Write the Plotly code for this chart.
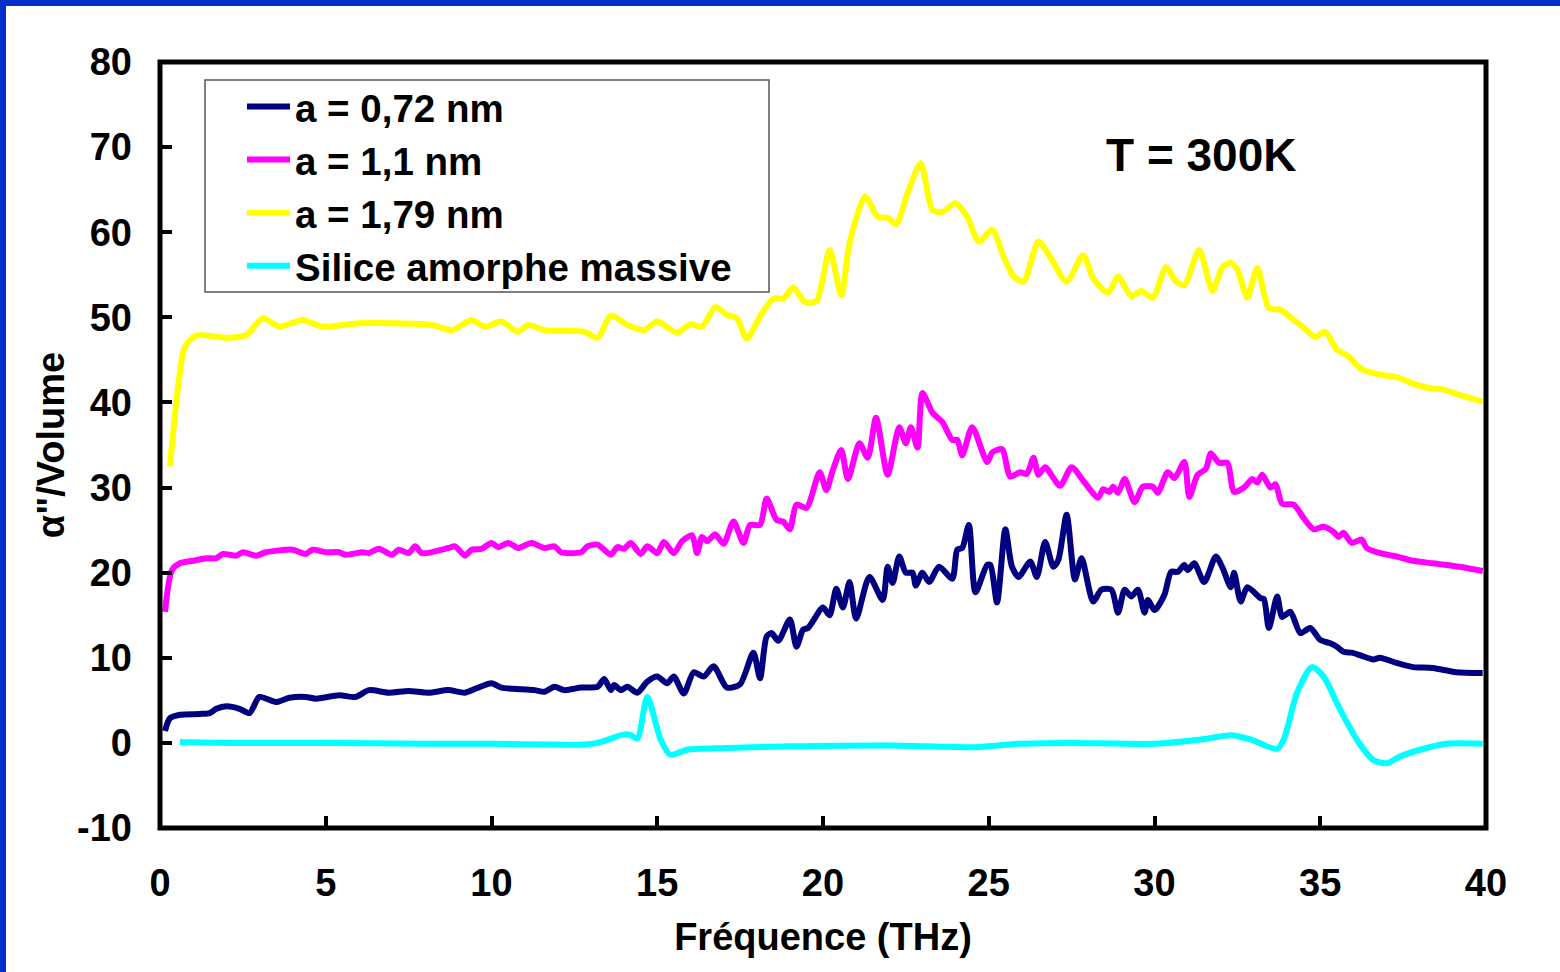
import plotly.graph_objects as go

# ---------------- data ----------------
f_072 = [0.15, 0.3, 0.6, 1.2, 1.5, 1.7, 2.0, 2.4, 2.7, 3.0, 3.5, 3.9, 4.4, 4.7, 5.4, 5.9, 6.3, 6.9, 7.5, 8.1,
         8.7, 9.2, 9.6, 10.0, 10.3, 10.9, 11.3, 11.6, 11.9, 12.2, 12.7, 13.2, 13.4, 13.6, 13.7, 13.9, 14.1, 14.4,
         14.7, 15.0, 15.3, 15.5, 15.8, 16.1, 16.4, 16.7, 17.1, 17.5, 17.9, 18.1, 18.3, 18.45, 18.65, 19.0, 19.2,
         19.4, 19.55, 20.0, 20.2, 20.4, 20.6, 20.8, 21.0, 21.4, 21.8, 21.95, 22.1, 22.3, 22.5, 22.7, 22.8, 23.0,
         23.2, 23.5, 23.9, 24.05, 24.2, 24.4, 24.6, 24.95, 25.05, 25.25, 25.5, 25.7, 25.9, 26.25, 26.45, 26.7,
         26.95, 27.1, 27.35, 27.6, 27.8, 28.15, 28.4, 28.7, 28.9, 29.1, 29.3, 29.5, 29.7, 29.8, 30.0, 30.3, 30.5,
         30.7, 30.9, 31.0, 31.2, 31.5, 31.85, 32.05, 32.3, 32.4, 32.6, 32.8, 33.2, 33.3, 33.45, 33.7, 33.85, 34.1,
         34.4, 34.7, 35.0, 35.3, 35.5, 35.7, 35.95, 36.2, 36.6, 36.8, 37.3, 37.8, 38.4, 39.1, 39.9]
v_072 = [1.4, 2.9, 3.3, 3.4, 3.5, 4.0, 4.3, 4.0, 3.5, 5.4, 4.8, 5.3, 5.4, 5.2, 5.6, 5.4, 6.2, 5.9, 6.1, 5.9,
         6.2, 5.9, 6.5, 7.0, 6.5, 6.3, 6.2, 6.0, 6.6, 6.2, 6.5, 6.6, 7.5, 6.2, 6.8, 6.2, 6.6, 5.9,
         7.2, 7.8, 7.0, 7.8, 5.8, 8.3, 7.8, 9.0, 6.5, 6.9, 10.6, 7.6, 12.5, 12.9, 12.0, 14.5, 11.3,
         13.3, 13.5, 15.9, 15.0, 18.1, 15.9, 18.9, 14.6, 19.5, 16.8, 20.7, 18.8, 21.9, 20.0, 20.0, 18.5, 20.0,
         18.9, 20.7, 19.3, 22.7, 22.9, 25.6, 17.7, 20.9, 20.9, 16.5, 25.1, 20.7, 19.5, 21.3, 19.5, 23.6,
         20.7, 21.5, 26.8, 19.2, 21.7, 16.6, 18.0, 18.0, 15.3, 18.0, 17.2, 18.0, 15.3, 16.8, 15.6, 17.4, 20.1,
         20.1, 20.9, 20.3, 21.1, 18.9, 21.9, 20.6, 18.3, 20.0, 16.6, 18.3, 17.0, 16.9, 13.5, 17.2, 14.8, 15.4,
         12.9, 13.5, 12.1, 11.7, 11.3, 10.7, 10.6, 10.3, 9.8, 10.0, 9.4, 8.9, 8.8, 8.3, 8.2]

f_11 = [0.15, 0.36, 0.6, 1.0, 1.4, 1.7, 1.9, 2.3, 2.5, 2.9, 3.2, 4.0, 4.4, 4.6, 5.0, 5.4, 5.6, 6.1, 6.3, 6.6,
        7.0, 7.2, 7.5, 7.7, 7.9, 8.7, 8.9, 9.2, 9.4, 9.7, 10.0, 10.2, 10.5, 10.8, 11.2, 11.6, 11.9, 12.1, 12.7,
        12.9, 13.2, 13.6, 13.8, 14.0, 14.2, 14.5, 14.7, 15.0, 15.2, 15.5, 15.75, 16.05, 16.2, 16.35, 16.5,
        16.75, 17.0, 17.3, 17.6, 17.8, 18.1, 18.3, 18.6, 18.8, 19.0, 19.2, 19.5, 19.9, 20.1, 20.3, 20.55, 20.75,
        21.1, 21.35, 21.6, 21.95, 22.3, 22.5, 22.65, 22.85, 23.0, 23.3, 23.6, 23.9, 24.05, 24.2, 24.5, 24.95,
        25.1, 25.4, 25.65, 25.95, 26.15, 26.35, 26.5, 26.7, 27.15, 27.5, 27.85, 28.3, 28.45, 28.65, 28.75,
        28.9, 29.1, 29.4, 29.65, 29.95, 30.1, 30.4, 30.6, 30.9, 31.05, 31.3, 31.55, 31.7, 31.95, 32.2, 32.4,
        32.7, 32.95, 33.1, 33.25, 33.5, 33.65, 33.85, 34.2, 34.5, 34.8, 35.1, 35.4, 35.55, 35.7, 35.95, 36.25,
        36.4, 36.9, 37.3, 37.8, 38.4, 39.2, 39.9]
v_11 = [15.4, 20.3, 21.1, 21.4, 21.7, 21.7, 22.2, 22.0, 22.4, 22.0, 22.4, 22.7, 22.2, 22.7, 22.4, 22.4, 22.1, 22.4, 22.3, 22.8,
        22.1, 22.7, 22.3, 23.1, 22.3, 22.9, 23.1, 22.0, 22.7, 22.8, 23.5, 23.0, 23.5, 22.9, 23.5, 22.9, 23.1, 22.4, 22.4,
        23.1, 23.3, 22.1, 23.0, 22.8, 23.5, 22.2, 23.1, 22.3, 23.6, 22.3, 23.7, 24.4, 22.3, 24.2, 23.7,
        24.5, 23.4, 26.0, 23.5, 25.6, 25.6, 28.7, 26.2, 26.0, 25.1, 28.0, 27.6, 31.8, 29.7, 32.1, 34.4, 31.0,
        35.2, 33.5, 38.2, 31.5, 37.1, 35.2, 37.1, 34.7, 41.1, 38.8, 37.7, 35.6, 35.6, 33.8, 37.1, 33.0,
        34.1, 34.5, 31.3, 31.8, 31.6, 33.5, 31.5, 32.4, 30.2, 32.4, 30.8, 28.8, 29.8, 29.5, 30.1,
        29.4, 31.0, 28.3, 30.1, 30.1, 29.4, 31.8, 31.1, 33.0, 28.9, 31.5, 32.2, 34.0, 32.9, 32.9, 29.5,
        30.0, 31.0, 30.6, 31.5, 30.0, 30.4, 28.1, 28.0, 26.4, 25.1, 25.4, 24.8, 24.2, 24.7, 23.5, 23.9,
        22.9, 22.2, 21.9, 21.4, 21.1, 20.7, 20.2]

f_179 = [0.3, 0.55, 0.75, 1.1, 2.0, 2.6, 3.1, 3.6, 4.3, 4.9, 6.0, 7.0, 8.2, 8.8, 9.4, 9.8, 10.3, 10.8, 11.1, 11.6,
         12.8, 13.2, 13.6, 14.1, 14.6, 15.0, 15.6, 16.0, 16.35, 16.75, 17.1, 17.4, 17.7, 18.1, 18.5, 18.8, 19.1,
         19.45, 19.8, 20.2, 20.55, 20.8, 21.27, 21.65, 21.95, 22.2, 22.55, 22.95, 23.3, 23.6, 24.0, 24.35, 24.7,
         25.1, 25.45, 25.75, 26.05, 26.5, 26.85, 27.35, 27.85, 28.15, 28.6, 28.9, 29.3, 29.6, 29.95, 30.35,
         30.65, 30.9, 31.35, 31.75, 32.05, 32.3, 32.5, 32.8, 33.1, 33.45, 33.8, 34.2, 34.5, 34.85, 35.15, 35.5,
         35.85, 36.25, 36.9, 37.3, 37.8, 38.4, 38.6, 39.2, 39.9]
v_179 = [32.5, 42.0, 46.5, 47.9, 47.6, 47.9, 49.9, 48.9, 49.7, 48.9, 49.3, 49.3, 49.1, 48.5, 49.7, 48.9, 49.5, 48.3, 49.1, 48.5,
         48.3, 47.6, 50.2, 49.1, 48.5, 49.5, 48.2, 49.2, 48.9, 51.2, 50.3, 49.9, 47.5, 50.1, 52.2, 52.2, 53.5,
         51.8, 51.9, 57.9, 52.6, 58.7, 64.2, 61.8, 61.7, 60.9, 64.6, 68.1, 62.6, 62.4, 63.4, 61.8, 58.9,
         60.3, 57.1, 54.8, 54.2, 58.9, 57.1, 54.2, 57.3, 54.6, 52.9, 54.8, 52.5, 53.1, 52.3, 55.9,
         54.2, 53.8, 57.9, 53.1, 55.9, 56.4, 55.6, 52.3, 55.8, 51.1, 50.9, 49.7, 48.8, 47.7, 48.3, 46.2,
         45.4, 43.9, 43.2, 43.0, 42.2, 41.6, 41.6, 40.9, 40.1]

f_sil = [0.6, 2.0, 5.0, 8.0, 10.0, 12.0, 12.8, 13.2, 13.6, 14.0, 14.2, 14.4, 14.7, 15.1, 15.4, 15.9, 17.1, 19.1,
         22.1, 24.6, 25.9, 27.5, 30.0, 31.4, 32.3, 32.9, 33.7, 33.9, 34.3, 34.75, 35.1, 35.6, 36.1, 36.6, 37.0,
         37.4, 38.2, 38.8, 39.9]
v_sil = [0.1, 0.0, 0.0, -0.1, -0.1, -0.2, -0.2, 0.0, 0.5, 1.0, 0.9, 0.5, 5.4, 0.4, -1.4, -0.8, -0.6, -0.4,
         -0.3, -0.5, -0.1, 0.0, -0.1, 0.4, 0.9, 0.4, -0.7, 0.4, 5.9, 8.9, 7.8, 3.9, 0.4, -2.0, -2.4,
         -1.6, -0.6, -0.1, -0.1]

names = ["a = 0,72 nm", "a = 1,1 nm", "a = 1,79 nm", "Silice amorphe massive"]
colors = ["#000080", "#FF00FF", "#FFFF00", "#00FFFF"]
x_ticks = [0, 5, 10, 15, 20, 25, 30, 35, 40]
y_ticks = [-10, 0, 10, 20, 30, 40, 50, 60, 70, 80]
y_ticktext = ["-10", "0", "10", "20", "30", "40", "50", "60", "70", "80"]

FONT = "Liberation Sans, Arial, sans-serif"
W, H = 1560, 972
L, R, T, B = 160, 74, 62, 144
PW, PH = W - L - R, H - T - B


def px(xp):
    return (xp - L) / PW


def py(yp):
    return (H - B - yp) / PH


fig = go.Figure()
series = [(f_072, v_072), (f_11, v_11), (f_179, v_179), (f_sil, v_sil)]
for i, ((fx, fv), nm, col) in enumerate(zip(series, names, colors)):
    fig.add_trace(go.Scatter(x=fx, y=fv, name=nm, mode="lines", legendgroup=f"g{i}",
                             line=dict(color=col, width=6, shape="spline", smoothing=0.7)))

axis_font = dict(family=FONT, size=38, color="black", weight="bold")
fig.update_layout(
    width=W, height=H,
    margin=dict(l=L, r=R, t=T, b=B),
    paper_bgcolor="white", plot_bgcolor="white",
    font=dict(family=FONT, color="black"),
    xaxis=dict(range=[0, 40], tickvals=x_ticks, ticks="inside", ticklen=12, tickwidth=4,
               tickcolor="black", showgrid=False, zeroline=False, showline=False,
               tickfont=axis_font, ticklabelstandoff=29,
               title=dict(text="Fréquence (THz)", font=axis_font, standoff=20)),
    yaxis=dict(range=[-10, 80], tickvals=y_ticks, ticktext=y_ticktext, ticks="inside", ticklen=12,
               tickwidth=4, tickcolor="black", showgrid=False, zeroline=False, showline=False,
               tickfont=axis_font, ticklabelstandoff=27,
               title=dict(text='α"/Volume', font=axis_font, standoff=0)),
    legend=dict(x=px(242), y=py(75), xanchor="left", yanchor="top",
                bgcolor="rgba(0,0,0,0)", borderwidth=0,
                font=dict(family=FONT, size=38.5, color="black", weight="bold"),
                itemwidth=43, tracegroupgap=0),
    showlegend=True,
)

# frame around plot area
fig.add_shape(type="rect", xref="paper", yref="paper", x0=0, x1=1, y0=0, y1=1,
              line=dict(color="black", width=5), layer="above")
# legend box
fig.add_shape(type="rect", xref="paper", yref="paper", x0=px(205), x1=px(769), y0=py(292), y1=py(80),
              line=dict(color="#555555", width=1.5), layer="above")
# blue border strips (top, left)
fig.add_shape(type="rect", xref="paper", yref="paper", x0=px(0), x1=px(W), y0=py(6), y1=py(0),
              line=dict(width=0), fillcolor="#0030C8", layer="above")
fig.add_shape(type="rect", xref="paper", yref="paper", x0=px(0), x1=px(6), y0=py(H), y1=py(0),
              line=dict(width=0), fillcolor="#0030C8", layer="above")

fig.add_annotation(text="T = 300K", x=31.41, y=69.1, xref="x", yref="y", showarrow=False,
                   font=dict(family=FONT, size=46, color="black", weight="bold"))

fig.write_html("out.html")
